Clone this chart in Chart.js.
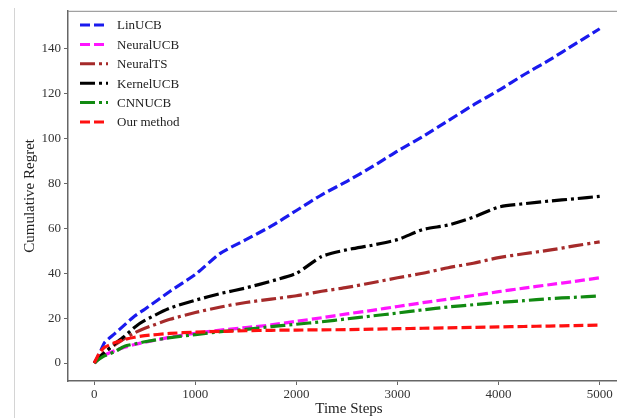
<!DOCTYPE html>
<html>
<head>
<meta charset="utf-8">
<script src="https://cdn.jsdelivr.net/npm/chart.js@4.4.1/dist/chart.umd.min.js"></script>
<style>
  html, body { margin: 0; padding: 0; background: #fff; overflow: hidden; width: 617px; height: 418px; }
  #wrap { position: relative; width: 640px; height: 418px; }
  #rule { position: absolute; left: 14px; top: 8px; width: 1px; height: 410px; background: #d4d4d4; }
  canvas { position: absolute; left: 0; top: 0; }
</style>
</head>
<body>
<div id="wrap">
  <div id="rule"></div>
  <canvas id="c" width="640" height="418"></canvas>
</div>
<script>
// Time steps at which the cumulative regret is sampled
const steps = [0, 50, 100, 200, 300, 400, 500, 750, 1000, 1250, 1500, 1750, 2000,
               2250, 2500, 2750, 3000, 3250, 3500, 3750, 4000, 4250, 4500, 4750, 5000];

// Cumulative regret of each method
const linUCB    = [0, 4, 9, 13, 17, 21, 24, 32, 39.5, 49, 55, 61, 68,
                   75, 81, 87.5, 94.5, 101, 108, 115, 121.5, 128.5, 135, 142, 149];
const neuralUCB = [0, 2, 3.5, 5.5, 7, 8.3, 9.3, 11.5, 13.3, 14.7, 15.8, 17, 18.6,
                   20.2, 21.9, 23.5, 25.2, 26.9, 28.5, 30.1, 31.8, 33.4, 34.9, 36.4, 38];
const neuralTS  = [0, 2.5, 5, 8, 11, 13.5, 15.5, 19.5, 22.5, 25, 27, 28.5, 30,
                   32, 33.7, 35.8, 38, 40, 42.5, 44.5, 47, 48.7, 50.3, 52.2, 54];
const kernelUCB = [0, 2.5, 4.5, 8.5, 12, 16, 19, 24.5, 28, 31, 33.5, 36.5, 40,
                   47.5, 50.5, 52.5, 55, 59.5, 61.5, 65, 69.5, 71, 72.2, 73.2, 74.3];
const cnnUCB    = [0, 1.8, 3.2, 5, 7.5, 8.5, 9.5, 11.3, 12.7, 14, 15, 16.2, 17.3,
                   18.4, 19.7, 21, 22.3, 23.7, 25, 26, 27, 27.8, 28.7, 29.3, 29.9];
const ourMethod = [0, 4.5, 7, 9, 10.5, 11.5, 12.2, 13.2, 13.8, 14.1, 14.4, 14.6, 14.7,
                   14.8, 14.9, 15.1, 15.3, 15.5, 15.7, 15.9, 16.1, 16.3, 16.5, 16.7, 16.9];

const methodNames = ['LinUCB', 'NeuralUCB', 'NeuralTS', 'KernelUCB', 'CNNUCB', 'Our method'];
const seriesList  = [linUCB, neuralUCB, neuralTS, kernelUCB, cnnUCB, ourMethod];
const xTicks = [0, 1000, 2000, 3000, 4000, 5000];
const yTicks = [0, 20, 40, 60, 80, 100, 120, 140];

const colors = ['#1a1aee', '#ff14ff', '#a52a2a', '#000000', '#118a11', '#ff1010'];
const DASH = [10, 4];
const DASH_DOT = [15, 4, 3, 4];
const dashes = [DASH, DASH, DASH_DOT, DASH_DOT, DASH_DOT, DASH];

const SERIF = '"Liberation Serif", "Times New Roman", serif';

const datasets = seriesList.map((vals, i) => ({
  label: methodNames[i],
  data: steps.map((s, k) => ({ x: s, y: vals[k] })),
  borderColor: colors[i],
  backgroundColor: colors[i],
  borderWidth: 3.2,
  borderDash: dashes[i],
  pointRadius: 0,
  tension: 0.2,
  fill: false,
  order: seriesList.length - i
}));

// Legend drawn inside the plot area, top-left
const innerLegend = {
  id: 'innerLegend',
  afterDraw(chart) {
    const ctx = chart.ctx;
    ctx.save();
    chart.data.datasets.forEach((ds, i) => {
      const y = 25 + i * 19.4;
      ctx.beginPath();
      ctx.setLineDash(ds.borderDash);
      ctx.lineWidth = 3;
      ctx.strokeStyle = ds.borderColor;
      ctx.moveTo(80, y);
      ctx.lineTo(108, y);
      ctx.stroke();
      ctx.setLineDash([]);
      ctx.fillStyle = '#222';
      ctx.font = '13px ' + SERIF;
      ctx.textBaseline = 'middle';
      ctx.textAlign = 'left';
      ctx.fillText(ds.label, 117, y + 1);
    });
    ctx.restore();
  }
};

// Top edge of the axes frame
const topFrame = {
  id: 'topFrame',
  afterDraw(chart) {
    const { ctx, chartArea } = chart;
    ctx.save();
    ctx.strokeStyle = '#8a8a8a';
    ctx.lineWidth = 1;
    ctx.beginPath();
    ctx.moveTo(chartArea.left, chartArea.top + 0.5);
    ctx.lineTo(chartArea.right, chartArea.top + 0.5);
    ctx.stroke();
    ctx.restore();
  }
};

new Chart(document.getElementById('c'), {
  type: 'line',
  data: { datasets },
  options: {
    responsive: false,
    animation: false,
    devicePixelRatio: 1,
    layout: { padding: { top: 10, right: 10, left: 0, bottom: 0 } },
    plugins: { legend: { display: false }, tooltip: { enabled: false } },
    scales: {
      x: {
        type: 'linear',
        min: -260,
        max: 5300,
        afterBuildTicks(scale) { scale.ticks = xTicks.map(v => ({ value: v })); },
        afterFit(scale) { scale.height = 37; },
        grid: { display: true, drawOnChartArea: false, drawTicks: true, tickLength: 4, color: '#666' },
        border: { display: true, color: '#666', width: 1.5 },
        ticks: { color: '#333', font: { family: SERIF, size: 13 }, padding: 2, maxRotation: 0,
                 callback: v => String(v) },
        title: { display: true, text: 'Time Steps', color: '#222', font: { family: SERIF, size: 15 }, padding: { top: 0, bottom: 0 } }
      },
      y: {
        min: -8,
        max: 157,
        afterBuildTicks(scale) { scale.ticks = yTicks.map(v => ({ value: v })); },
        afterFit(scale) { scale.width = 68; },
        grid: { display: true, drawOnChartArea: false, drawTicks: true, tickLength: 4, color: '#666' },
        border: { display: true, color: '#666', width: 1.5 },
        ticks: { color: '#333', font: { family: SERIF, size: 13 }, padding: 3, callback: v => String(v) },
        title: { display: true, text: 'Cumulative Regret', color: '#222', font: { family: SERIF, size: 15 }, padding: { top: 21, bottom: 0 } }
      }
    }
  },
  plugins: [innerLegend, topFrame]
});
</script>
</body>
</html>
